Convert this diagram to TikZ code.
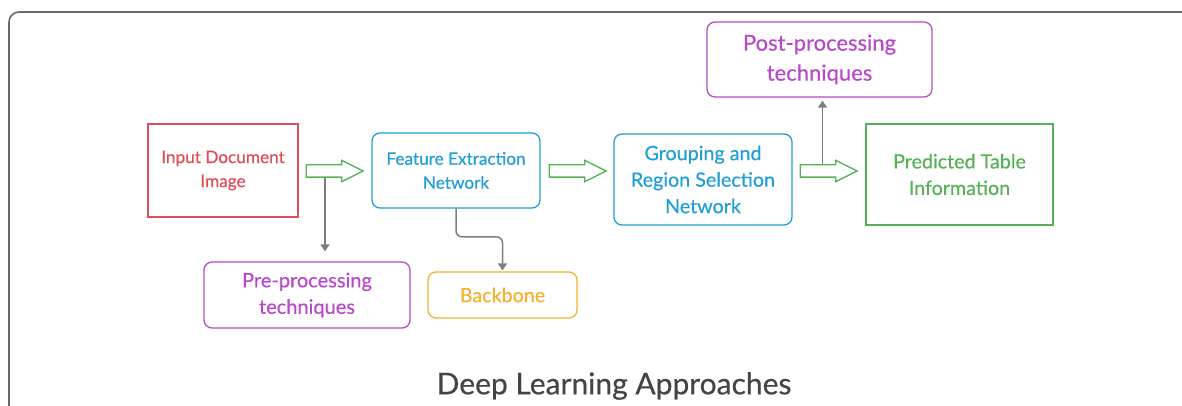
\documentclass[tikz,border=0pt]{standalone}
\usepackage{fontspec}
\setmainfont{Lato}[FakeBold=0.4]
\usetikzlibrary{shapes.arrows,arrows.meta,calc}
\definecolor{inred}{RGB}{224,76,86}
\definecolor{netblue}{RGB}{32,158,216}
\definecolor{outgreen}{RGB}{84,178,84}
\definecolor{procpurple}{RGB}{184,72,204}
\definecolor{boneorange}{RGB}{244,176,46}
\definecolor{linkgray}{RGB}{125,125,125}
\definecolor{framegray}{RGB}{105,105,105}
\definecolor{titlegray}{RGB}{68,68,68}
\tikzstyle{sqbox}=[draw,line width=1.3pt,inner sep=0pt,align=center]
\tikzstyle{rbox}=[sqbox,rounded corners=8pt]
\tikzstyle{small}=[font=\fontsize{17.2}{24}\selectfont]
\tikzstyle{large}=[font=\fontsize{19.7}{26.5}\selectfont]
\tikzstyle{flow}=[single arrow,draw=outgreen,line width=1.3pt,inner xsep=0pt,inner ysep=5.5pt,minimum width=20pt,minimum height=57pt,single arrow head extend=4.5pt,single arrow tip angle=53]
\tikzstyle{link}=[draw=linkgray,line width=1.5pt,-{Triangle[width=9pt,length=7pt]}]

\begin{document}
\begin{tikzpicture}[x=1pt,y=-1pt]
\useasboundingbox (0,0) rectangle (1182,406);
\clip (0,0) rectangle (1182,406);
\draw[framegray,line width=1.6pt,rounded corners=10pt] (9,12) rectangle (1200,430);
% boxes
\node[sqbox,small,draw=inred,text=inred,minimum width=150pt,minimum height=93pt] (Inp) at (223,170.5) {Input Document\\Image};
\node[rbox,small,draw=netblue,text=netblue,minimum width=168pt,minimum height=75pt] (Feat) at (456,170.5) {Feature Extraction\\Network};
\node[rbox,large,draw=netblue,text=netblue,minimum width=178pt,minimum height=91pt] (Grp) at (703,179.5) {Grouping and\\Region Selection\\Network};
\node[sqbox,large,draw=outgreen,text=outgreen,minimum width=187pt,minimum height=101pt] (Pred) at (959.5,174.5) {Predicted Table\\Information};
\node[rbox,draw=procpurple,text=procpurple,minimum width=225pt,minimum height=75pt,font=\fontsize{22}{30}\selectfont] (Post) at (819.5,59.5) {Post-processing\\techniques};
\node[rbox,draw=procpurple,text=procpurple,minimum width=206pt,minimum height=66pt,font=\fontsize{20}{26.5}\selectfont] (Pre) at (307,295) {Pre-processing\\techniques};
\node[rbox,large,draw=boneorange,text=boneorange,minimum width=149pt,minimum height=46pt] (Back) at (502.5,295) {Backbone};
% hollow arrows
\node[flow] (Arr1) at (328.5,171) {};
\node[flow] (Arr2) at (571.5,171) {};
\node[flow] (Arr3) at (822.5,171) {};
% side links
\draw[link] ([xshift=-3.5pt]Arr1.south) -- ([xshift=-3.5pt,yshift=10pt]Arr1.south |- Pre.north);
\draw[link] (Arr3.north) -- ([yshift=-3pt]Arr3.north |- Post.south);
\draw[link,rounded corners=6pt] (Feat.south) |- ($(Feat.south)!0.45!(Back.north)$) -| ([yshift=1pt]Back.north);
\node[titlegray,font=\fontsize{30}{34}\selectfont] (Title) at (614,386) {Deep Learning Approaches};
\end{tikzpicture}
\end{document}
